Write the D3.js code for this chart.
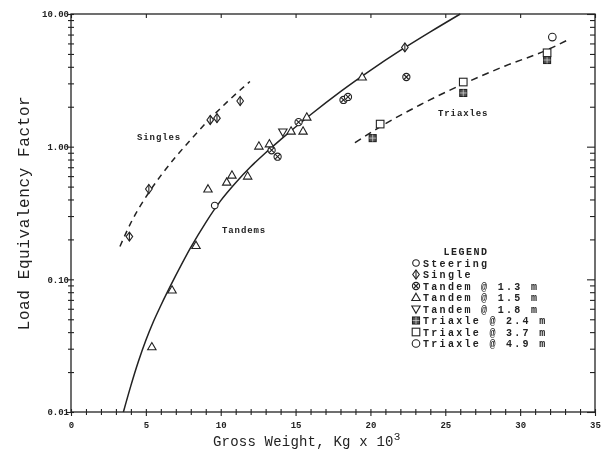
<!DOCTYPE html>
<html>
<head>
<meta charset="utf-8">
<script src="https://cdn.jsdelivr.net/npm/d3@7"></script>
<style>
  body { margin: 0; background: #fff; }
  #chart { width: 604px; height: 450px; }
  svg { will-change: transform; }
  text { font-family: "Liberation Mono", "DejaVu Sans Mono", monospace; fill: #222; }
</style>
</head>
<body>
<div id="chart"></div>
<script>
// values (x = gross weight, Kg x 10^3)
const xTicks = [0, 5, 10, 15, 20, 25, 30, 35];
const yTicks = [0.01, 0.1, 1, 10];

const steeringPts = [[9.6, 0.36]];
const singlePts = [[3.9, 0.21], [5.2, 0.48], [9.3, 1.59], [9.75, 1.64], [11.3, 2.21], [22.3, 5.6]];
const tandem13Pts = [[13.4, 0.94], [13.8, 0.84], [15.2, 1.53], [18.2, 2.25], [18.5, 2.37], [22.4, 3.35]];
const tandem15Pts = [[5.4, 0.031], [6.75, 0.083], [8.35, 0.18], [9.15, 0.48], [10.4, 0.54], [10.75, 0.61],
  [11.8, 0.60], [12.55, 1.01], [13.25, 1.05], [14.7, 1.31], [15.5, 1.31], [15.75, 1.67], [19.45, 3.35]];
const tandem18Pts = [[14.15, 1.29]];
const triaxle24Pts = [[20.15, 1.16], [26.2, 2.54], [31.8, 4.5]];
const triaxle37Pts = [[20.65, 1.48], [26.2, 3.07], [31.8, 5.1]];
const triaxle49Pts = [[32.15, 6.7]];

const tandemCurve = [[3.5, 0.01], [4.0, 0.0158], [4.5, 0.024], [5.0, 0.0347], [5.5, 0.0479], [6.0, 0.0635],
  [7.0, 0.107], [8.0, 0.174], [9.0, 0.268], [10.0, 0.392], [11.0, 0.535], [12.0, 0.705], [13.0, 0.9],
  [14.0, 1.13], [16.0, 1.74], [18.0, 2.6], [20.0, 3.76], [22.0, 5.31], [24.0, 7.33], [26.0, 10.0]];
const singlesLine = [[3.27, 0.177], [4.0, 0.267], [5.2, 0.451], [6.0, 0.605], [7.0, 0.839], [8.0, 1.13],
  [9.3, 1.63], [10.5, 2.21], [11.95, 3.1]];
const triaxleLine = [[18.97, 1.07], [20.64, 1.41], [23.3, 2.06], [26.2, 2.97], [29.0, 4.06], [31.8, 5.36],
  [33.3, 6.48]];

const legendNames = ["Steering", "Single", "Tandem @ 1.3 m", "Tandem @ 1.5 m", "Tandem @ 1.8 m",
  "Triaxle @ 2.4 m", "Triaxle @ 3.7 m", "Triaxle @ 4.9 m"];
const legendKinds = ["steer", "single", "t13", "t15", "t18", "x24", "x37", "x49"];

const ink = "#222";
const fullWidth = 604, fullHeight = 450;
const margin = { top: 14, right: 9, bottom: 38, left: 71 };

const svg = d3.select("#chart").append("svg")
  .attr("width", fullWidth)
  .attr("height", fullHeight);

const x = d3.scaleLinear().domain([0, 35]).range([margin.left, fullWidth - margin.right]);
const y = d3.scaleLog().domain([0.01, 10]).range([fullHeight - margin.bottom, margin.top]);

const minorY = [];
[0.01, 0.1, 1].forEach(d => { for (let k = 2; k <= 9; k++) minorY.push(d * k); });
const minorX = d3.range(0, 36).filter(d => d % 5 !== 0);

// frame
svg.append("rect")
  .attr("x", x(0)).attr("y", y(10))
  .attr("width", x(35) - x(0)).attr("height", y(0.01) - y(10))
  .attr("fill", "none").attr("stroke", ink).attr("stroke-width", 1.3);

// bottom axis
const xAxis = svg.append("g")
  .attr("transform", `translate(0,${y(0.01)})`)
  .call(d3.axisBottom(x).tickValues(xTicks).tickSize(4).tickPadding(6).tickFormat(d3.format("d")));
xAxis.selectAll("line").attr("y1", -3);
svg.append("g")
  .attr("transform", `translate(0,${y(0.01)})`)
  .call(d3.axisBottom(x).tickValues(minorX).tickSize(3).tickFormat(""))
  .selectAll("line").attr("y1", -3);

// left axis
const yAxis = svg.append("g")
  .attr("transform", `translate(${x(0)},0)`)
  .call(d3.axisLeft(y).tickValues(yTicks).tickSize(4).tickPadding(-2).tickFormat(d3.format(".2f")));
yAxis.selectAll("line").attr("x1", 3);
svg.append("g")
  .attr("transform", `translate(${x(0)},0)`)
  .call(d3.axisLeft(y).tickValues(minorY).tickSize(3).tickFormat(""))
  .selectAll("line").attr("x1", 3);

// right axis, ticks inward
svg.append("g")
  .attr("transform", `translate(${x(35)},0)`)
  .call(d3.axisRight(y).tickValues(minorY).tickSize(-5).tickFormat(""));
svg.append("g")
  .attr("transform", `translate(${x(35)},0)`)
  .call(d3.axisRight(y).tickValues(yTicks).tickSize(-8).tickFormat(""));

// top axis, ticks inward
svg.append("g")
  .attr("transform", `translate(0,${y(10)})`)
  .call(d3.axisTop(x).tickValues(xTicks).tickSize(-4).tickFormat(""));

svg.selectAll(".domain").remove();
svg.selectAll(".tick line").attr("stroke", ink).attr("stroke-width", 1.1);
svg.selectAll(".tick text")
  .attr("fill", ink)
  .style("font-family", "'Liberation Mono', monospace")
  .style("font-size", "9px")
  .style("font-weight", "bold");

// curves
const line = d3.line().x(d => x(d[0])).y(d => y(d[1])).curve(d3.curveMonotoneX);

svg.append("path").datum(tandemCurve)
  .attr("d", line).attr("fill", "none").attr("stroke", ink).attr("stroke-width", 1.5);
svg.append("path").datum(singlesLine)
  .attr("d", line).attr("fill", "none").attr("stroke", ink).attr("stroke-width", 1.5)
  .attr("stroke-dasharray", "6,5");
svg.append("path").datum(triaxleLine)
  .attr("d", line).attr("fill", "none").attr("stroke", ink).attr("stroke-width", 1.5)
  .attr("stroke-dasharray", "7,5");

// markers
function drawMarker(g, kind, cx, cy) {
  const m = g.append("g").attr("transform", `translate(${cx},${cy})`)
    .attr("fill", "#fff").attr("stroke", ink).attr("stroke-width", 1.1);
  if (kind === "steer") {
    m.append("circle").attr("r", 3.3);
  } else if (kind === "single") {
    m.append("path").attr("d", "M0,-4.5L3.3,0L0,4.5L-3.3,0Z");
    m.append("path").attr("d", "M0,-4.5L0,4.5");
  } else if (kind === "t13") {
    m.append("circle").attr("r", 3.6);
    m.append("path").attr("d", "M-2.5,-2.5L2.5,2.5M-2.5,2.5L2.5,-2.5");
  } else if (kind === "t15") {
    m.append("path").attr("d", "M0,-4.3L4.2,3L-4.2,3Z");
  } else if (kind === "t18") {
    m.append("path").attr("d", "M0,4.3L4.2,-3L-4.2,-3Z");
  } else if (kind === "x24") {
    m.append("rect").attr("x", -3.5).attr("y", -3.5).attr("width", 7).attr("height", 7).attr("fill", "#555");
    m.append("path").attr("d", "M-3.5,0L3.5,0M0,-3.5L0,3.5").attr("stroke", "#ddd").attr("stroke-width", 0.7);
  } else if (kind === "x37") {
    m.append("rect").attr("x", -3.8).attr("y", -3.8).attr("width", 7.6).attr("height", 7.6);
  } else if (kind === "x49") {
    m.append("circle").attr("r", 3.8);
  }
}

const series = [
  ["steer", steeringPts], ["single", singlePts], ["t13", tandem13Pts], ["t15", tandem15Pts],
  ["t18", tandem18Pts], ["x24", triaxle24Pts], ["x37", triaxle37Pts], ["x49", triaxle49Pts]
];
const marks = svg.append("g");
series.forEach(([kind, pts]) => {
  pts.forEach(d => drawMarker(marks, kind, x(d[0]), y(d[1])));
});

// curve labels
const curveLabel = (tx, ty, s) => svg.append("text")
  .attr("x", tx).attr("y", ty)
  .style("font-size", "9px").style("font-weight", "bold").style("letter-spacing", "0.9px")
  .text(s);
curveLabel(137, 140, "Singles");
curveLabel(222, 233, "Tandems");
curveLabel(438, 116, "Triaxles");

// legend
svg.append("text")
  .attr("x", 466).attr("y", 255)
  .attr("text-anchor", "middle")
  .style("font-size", "10px").style("font-weight", "bold").style("letter-spacing", "1.5px")
  .text("LEGEND");
legendNames.forEach((name, i) => {
  const ly = 263 + i * 11.5;
  drawMarker(svg, legendKinds[i], 416, ly);
  svg.append("text")
    .attr("x", 423).attr("y", ly + 3.5)
    .style("font-size", "10px").style("font-weight", "bold").style("letter-spacing", "2.3px")
    .text(name);
});

// axis titles
const xt = svg.append("text")
  .attr("x", 213).attr("y", 446)
  .style("font-size", "14px").style("letter-spacing", "0.2px");
xt.append("tspan").text("Gross Weight, Kg x 10");
xt.append("tspan").attr("dy", -6).style("font-size", "11px").text("3");

svg.append("text")
  .attr("transform", "translate(29,213) rotate(-90)")
  .attr("text-anchor", "middle")
  .style("font-size", "16px").style("letter-spacing", "0.6px")
  .text("Load Equivalency Factor");
</script>
</body>
</html>
